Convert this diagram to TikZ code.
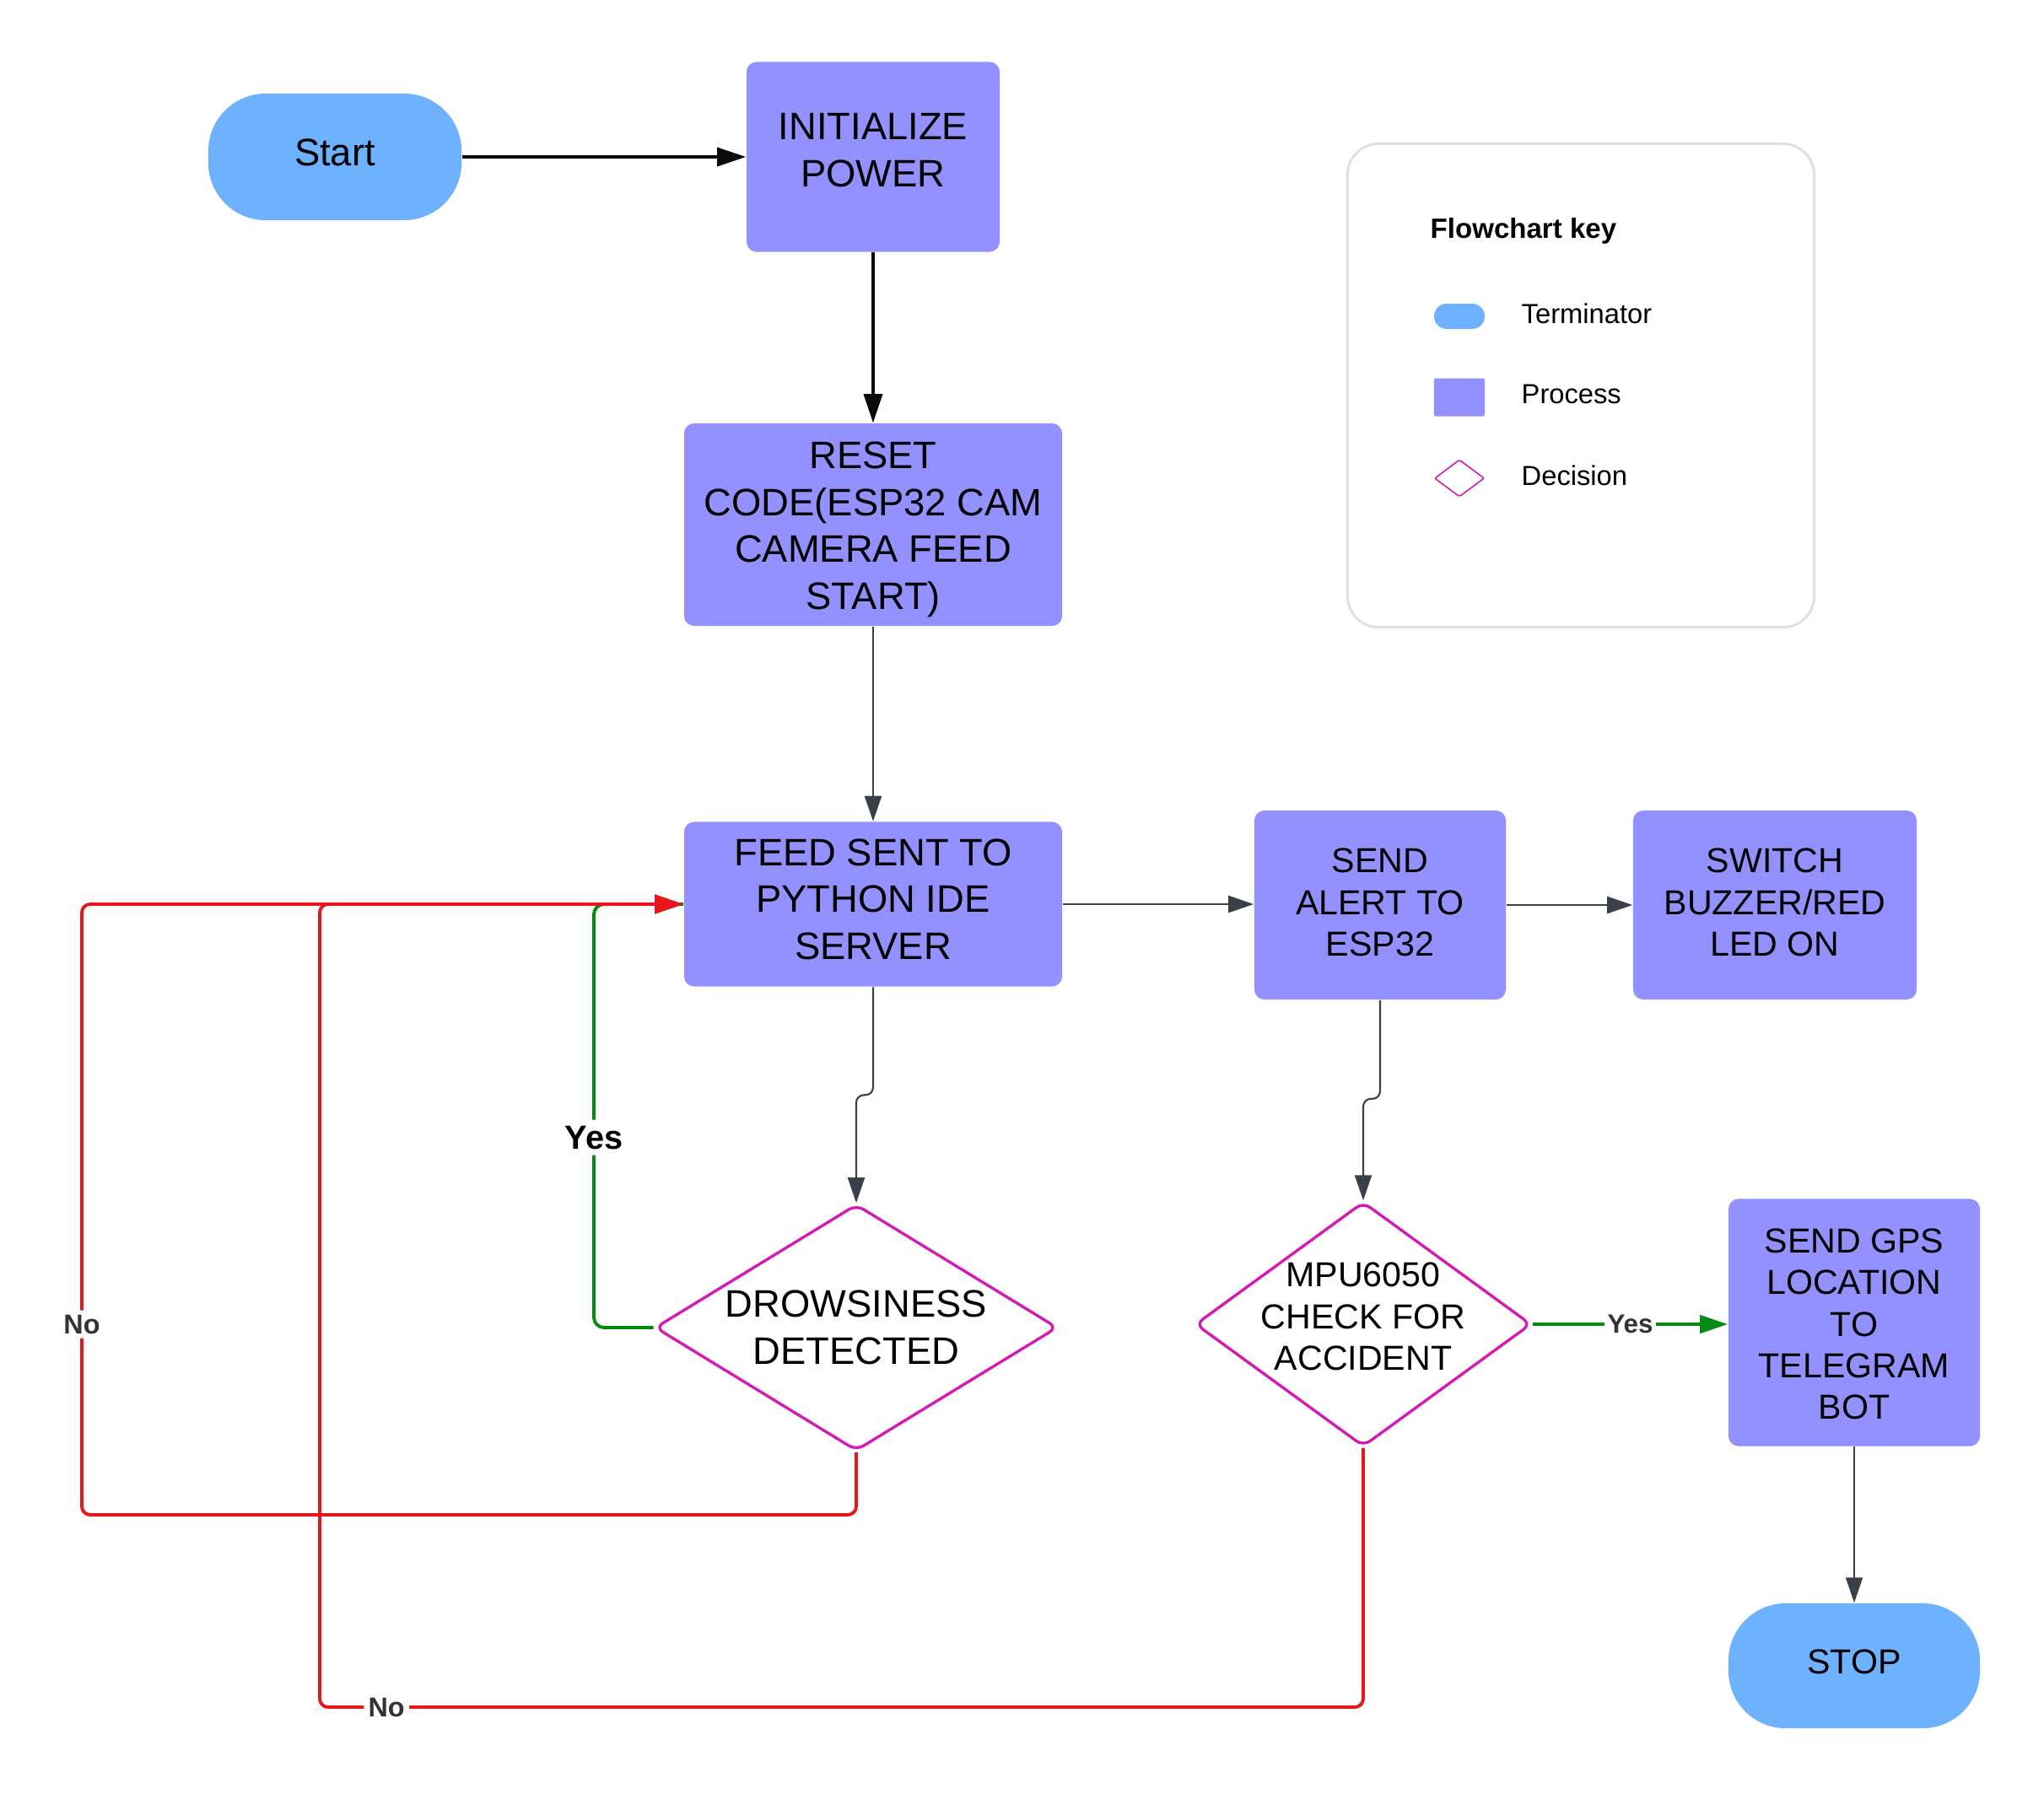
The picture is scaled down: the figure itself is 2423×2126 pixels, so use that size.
\documentclass[tikz,border=0pt]{standalone}
\usepackage{fontspec}
\setmainfont{Liberation Sans}
\usetikzlibrary{arrows.meta,shapes.geometric}

\definecolor{termblue}{HTML}{6EB1FF}
\definecolor{procviolet}{HTML}{9391FF}
\definecolor{decmag}{HTML}{D619B2}
\definecolor{loopred}{HTML}{E8161A}
\definecolor{yesgreen}{HTML}{058A12}
\definecolor{arrowgray}{HTML}{3A404A}
\definecolor{keygray}{HTML}{DDE1E7}
\definecolor{lbldark}{HTML}{333333}

\tikzset{
  bigfont/.style={font=\fontsize{12.9}{15.8}\selectfont},
  smallfont/.style={font=\fontsize{11.7}{14}\selectfont},
  term/.style={fill=termblue, rounded corners=0.68cm, inner sep=0pt,
    minimum width=3cm, minimum height=1.5cm},
  proc/.style={fill=procviolet, rounded corners=0.12cm, inner sep=0pt},
  decision/.style={shape=diamond, draw=decmag, line width=0.95pt, rounded corners=0.1cm,
    inner sep=0pt},
  boxtext/.style={align=center, inner sep=0pt},
  blkarrow/.style={draw=black!85!arrowgray, line width=0.94pt,
    -{Triangle[length=0.34cm,width=0.22cm]}},
  grayarrow/.style={draw=arrowgray, line width=0.6pt,
    -{Triangle[length=0.30cm,width=0.20cm]}},
  noloop/.style={draw=loopred, line width=1.1pt, rounded corners=0.1cm,
    -{Triangle[length=0.34cm,width=0.22cm]}},
  yesline/.style={draw=yesgreen, line width=1.1pt, rounded corners=0.12cm},
  lbl/.style={fill=white, inner sep=1.5pt, text=lbldark,
    font=\fontsize{9.2}{11}\selectfont\bfseries},
  keytext/.style={anchor=west, inner sep=0pt, font=\fontsize{9.3}{11}\selectfont},
}

\begin{document}
\begin{tikzpicture}[x=0.01cm, y=-0.01cm]
\useasboundingbox[fill=white] (0,0) rectangle (2423,2126);

% shapes of the main flow
\node[term] (start) at (397,186) {};
\node[proc, minimum width=3cm, minimum height=2.25cm] (init) at (1035,186) {};
\node[proc, minimum width=4.48cm, minimum height=2.4cm] (reset) at (1035,622) {};
\node[proc, minimum width=4.48cm, minimum height=1.95cm] (feed) at (1035,1072) {};
\node[proc, minimum width=2.98cm, minimum height=2.24cm] (alert) at (1636,1073) {};
\node[proc, minimum width=3.36cm, minimum height=2.24cm] (switch) at (2104,1073) {};
\node[decision, minimum width=4.77cm, minimum height=2.92cm] (drowsy) at (1015,1574) {};
\node[decision, minimum width=3.98cm, minimum height=2.90cm] (mpu) at (1616,1570) {};
\node[proc, minimum width=2.98cm, minimum height=2.93cm] (gps) at (2198,1568) {};
\node[term, minimum height=1.48cm, minimum width=2.98cm] (stop) at (2198,1975) {};

% their texts
\node[boxtext, bigfont] (starttxt) at (397,181) {Start};
\node[boxtext, bigfont] (inittxt) at (1035,178) {INITIALIZE\\POWER};
\node[boxtext, bigfont] (resettxt) at (1035,628) {RESET\\CODE(ESP32 CAM\\CAMERA FEED\\START)};
\node[boxtext, bigfont] (feedtxt) at (1035,1066) {FEED SENT TO\\PYTHON IDE\\SERVER};
\node[boxtext, smallfont] (alerttxt) at (1636,1070) {SEND\\ALERT TO\\ESP32};
\node[boxtext, smallfont] (switchtxt) at (2104,1070) {SWITCH\\BUZZER/RED\\LED ON};
\node[boxtext, bigfont] (drowsytxt) at (1015,1574) {DROWSINESS\\DETECTED};
\node[boxtext, smallfont] (mputxt) at (1616,1561) {MPU6050\\CHECK FOR\\ACCIDENT};
\node[boxtext, smallfont] (gpstxt) at (2198,1570) {SEND GPS\\LOCATION\\TO\\TELEGRAM\\BOT};
\node[boxtext, smallfont] (stoptxt) at (2198,1970) {STOP};

% loop corners
\coordinate (loopA) at (97,1796);
\coordinate (loopB) at (379,2024);
\coordinate (yesTop) at (704,1072);

% connectors
\draw[blkarrow] (start) -- (init);
\draw[blkarrow] (init) -- (reset);
\draw[grayarrow] (reset) -- (feed);
\draw[grayarrow] (feed.east) -- (feed.east -| alert.west);
\draw[grayarrow] (alert.east) -- (alert.east -| switch.west);
\draw[grayarrow, rounded corners=0.09cm] (feed.south) -- ++(0,128) -| (drowsy.north);
\draw[grayarrow, rounded corners=0.09cm] (alert.south) -- ++(0,117) -| (mpu.north);
\draw[grayarrow, line width=0.5pt] (gps) -- (stop);

\draw[yesline] (drowsy.west) -| node[pos=0.7245, fill=white, inner sep=2pt,
  font=\fontsize{11.3}{13}\selectfont\bfseries] {Yes} (yesTop) -- (feed.west);
\draw[noloop] (drowsy.south) |- (loopA) |- node[pos=0.156, lbl] {No} (feed.west);
\draw[noloop] (mpu.south) |- node[pos=0.968, lbl] {No} (loopB) |- (feed.west);
\draw[draw=yesgreen, line width=1.15pt, -{Triangle[length=0.33cm,width=0.21cm]}]
  (mpu.east) -- node[lbl, inner sep=1pt, font=\fontsize{8.9}{11}\selectfont\bfseries] {Yes}
  (mpu.east -| gps.west);

% flowchart key
\node[draw=keygray, line width=0.85pt, rounded corners=0.37cm, minimum width=5.53cm,
  minimum height=5.73cm] (key) at (1874,457) {};
\node[anchor=west, inner sep=0pt, font=\fontsize{9.4}{11}\selectfont\bfseries]
  (keytitle) at (1695,274) {Flowchart key};
\node[fill=termblue, rounded corners=0.15cm, minimum width=0.6cm, minimum height=0.3cm,
  inner sep=0pt] (keyterm) at (1730,375) {};
\node[keytext] (keytermtxt) at (1803,372) {Terminator};
\node[fill=procviolet, rounded corners=0.02cm, minimum width=0.6cm, minimum height=0.45cm,
  inner sep=0pt] (keyproc) at (1730,471) {};
\node[keytext] (keyproctxt) at (1803,467) {Process};
\node[shape=diamond, draw=decmag, line width=0.45pt, rounded corners=0.02cm,
  minimum width=0.59cm, minimum height=0.44cm, inner sep=0pt] (keydec) at (1730,567) {};
\node[keytext] (keydectxt) at (1803,564) {Decision};
\end{tikzpicture}
\end{document}
